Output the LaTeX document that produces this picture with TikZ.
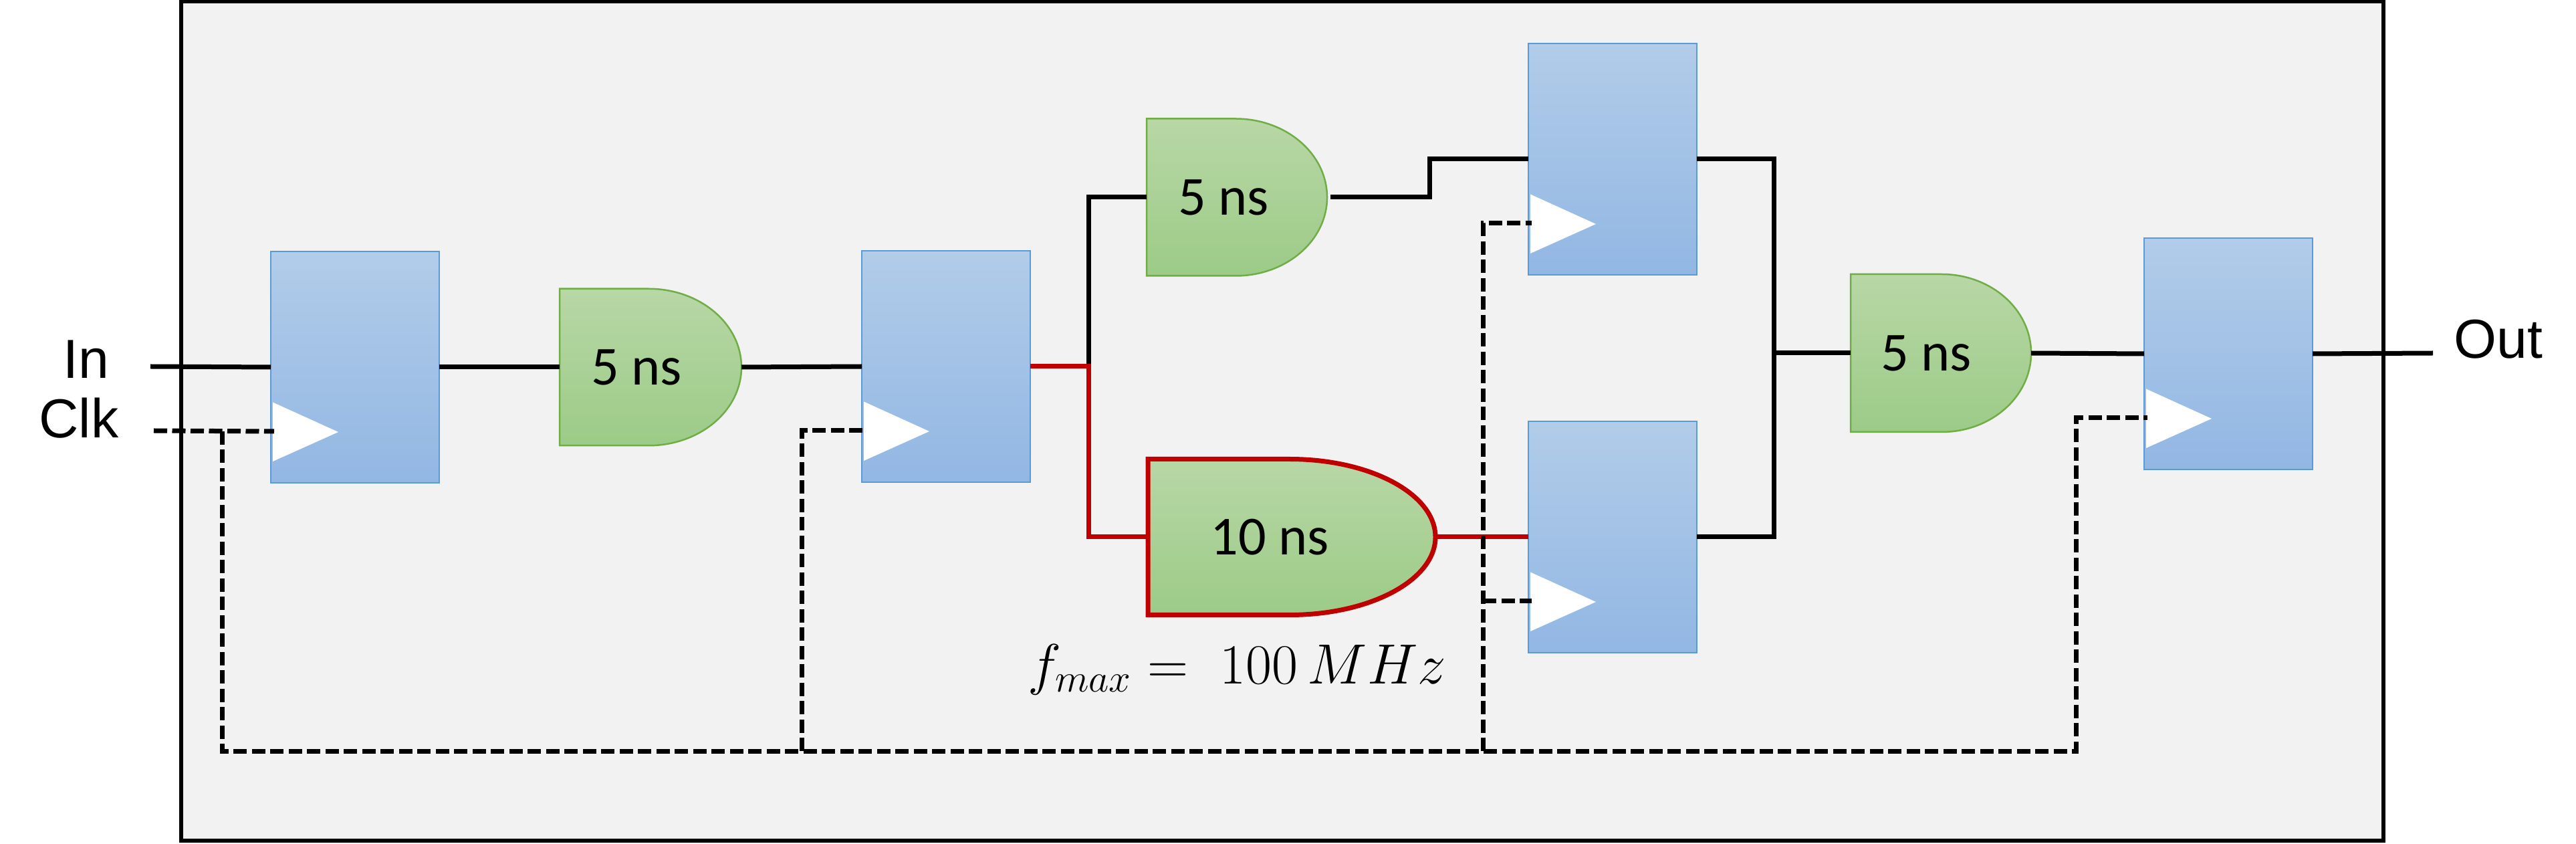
\documentclass[tikz,border=0pt]{standalone}
\usepackage{fontspec}
\newfontfamily\labelfont{Liberation Sans}
\newfontfamily\delayfont{Carlito}
\definecolor{panelgray}{HTML}{F2F2F2}
\definecolor{fftop}{HTML}{B2CCE9}
\definecolor{ffbot}{HTML}{92B7E3}
\definecolor{ffedge}{HTML}{5B9BD5}
\definecolor{gatetop}{HTML}{B8D7A6}
\definecolor{gatebot}{HTML}{9CCB87}
\definecolor{gateedge}{HTML}{70AD47}
\definecolor{critred}{HTML}{C00000}

\begin{document}
\begin{tikzpicture}[every node/.style={inner sep=0pt, outer sep=0pt, font=\fontsize{23.4}{28}\selectfont},
	wire/.style={line width=0.07cm, black},
	critwire/.style={line width=0.07cm, critred},
	clkwire/.style={line width=0.07cm, black, dash pattern=on 0.2cm off 0.075cm},
	ffbox/.style={draw=ffedge, line width=0.025cm, top color=fftop, bottom color=ffbot, minimum width=2.52cm, minimum height=3.46cm},
	gatebody/.style={draw=gateedge, line width=0.025cm, top color=gatetop, bottom color=gatebot},
	gatecrit/.style={draw=critred, line width=0.07cm, top color=gatetop, bottom color=gatebot}]
	\useasboundingbox (0,0) rectangle (38.53,12.61);
	\draw[fill=panelgray, line width=0.055cm] (2.71,0.04) rectangle (35.65,12.585);
	\node[font=\fontsize{23.4}{28}\selectfont\labelfont] (inlabel) at (1.29,7.24) {In};
	\node[font=\fontsize{23.4}{28}\selectfont\labelfont] (clklabel) at (1.18,6.36) {Clk};
	\node[font=\fontsize{23.4}{28}\selectfont\labelfont] (outlabel) at (37.37,7.54) {Out};
	\node[scale=0.97] (fmax) at (18.50,2.60) {$f_{max}=\;100\,MHz$};
	% flip-flops
	\foreach \ff/\x/\y in {ffa/5.31/7.12, ffb/14.15/7.13, ffc/24.12/10.23, ffd/24.12/4.58, ffe/33.33/7.32} {
		\node[ffbox] (\ff) at (\x,\y) {};
		\fill[white] ([shift={(0.03,-0.525)}]\ff.west) -- ([shift={(1.01,-0.97)}]\ff.west) -- ([shift={(0.03,-1.41)}]\ff.west) -- cycle;
		\coordinate (\ff clk) at ([shift={(0.05,-0.96)}]\ff.west);
	}
	% gates
	\foreach \g/\x/\y/\gw/\gh/\rx/\sty/\tx/\lab in {gA/9.73/7.12/2.72/2.345/1.39/gatebody/-0.21/5 ns, gB/18.50/9.66/2.70/2.35/1.37/gatebody/-0.20/5 ns, gC/19.32/4.58/4.30/2.33/2.18/gatecrit/-0.33/10 ns, gD/29.03/7.33/2.70/2.36/1.34/gatebody/-0.22/5 ns} {
		\node[minimum width=\gw cm, minimum height=\gh cm] (\g) at (\x,\y) {};
		\path[\sty] (\g.south west) -- (\g.north west) -- ([xshift=-\rx cm]\g.north east) arc[start angle=90, end angle=-90, x radius=\rx cm, y radius=0.5*\gh cm] -- cycle;
		\node[font=\fontsize{23.4}{28}\selectfont\delayfont] (\g text) at ([xshift=\tx cm]\g.center) {\lab};
	}
	\coordinate (inpt) at (2.25,7.13);
	\coordinate (outpt) at (36.39,7.33);
	\coordinate (split) at (16.28,7.13);
	\coordinate (jog) at (21.38,10.23);
	\coordinate (merge) at (26.53,7.33);
	\draw[wire] (inpt) -- (ffa.west);
	\draw[wire] (ffa.east) -- (gA.west);
	\draw[wire] (gA.east) -- (ffb.west);
	\draw[wire] (split) -- (split |- gB.west) -- (gB.west);
	\draw[wire] ([xshift=0.05cm]gB.east) -| (jog) -- (ffc.west);
	\draw[critwire] (ffb.east) -- (split) -- (split |- gC.west) -- (gC.west);
	\draw[critwire] (gC.east) -- (ffd.west);
	\draw[wire] (ffc.east) -| (merge) |- (ffd.east);
	\draw[wire] (merge) -- (gD.west);
	\draw[wire] (gD.east) -- (ffe.west);
	\draw[wire] (ffe.east) -- (outpt);
	% clock net
	\coordinate (clkin) at (2.30,6.17);
	\coordinate (busa) at (3.325,1.38);
	\coordinate (busb) at (11.99,1.38);
	\coordinate (busc) at (22.18,1.38);
	\coordinate (busd) at (31.05,1.38);
	\draw[clkwire] (clkin) -- (ffaclk);
	\draw[clkwire] (busa |- ffaclk) -- (busa) -- (busd) -- (busd |- ffeclk) -- (ffeclk);
	\draw[clkwire] (busb) -- (busb |- ffbclk) -- (ffbclk);
	\draw[clkwire] (busc) -- (busc |- ffcclk) -- (ffcclk);
	\draw[clkwire] (busc |- ffdclk) -- (ffdclk);
\end{tikzpicture}
\end{document}
